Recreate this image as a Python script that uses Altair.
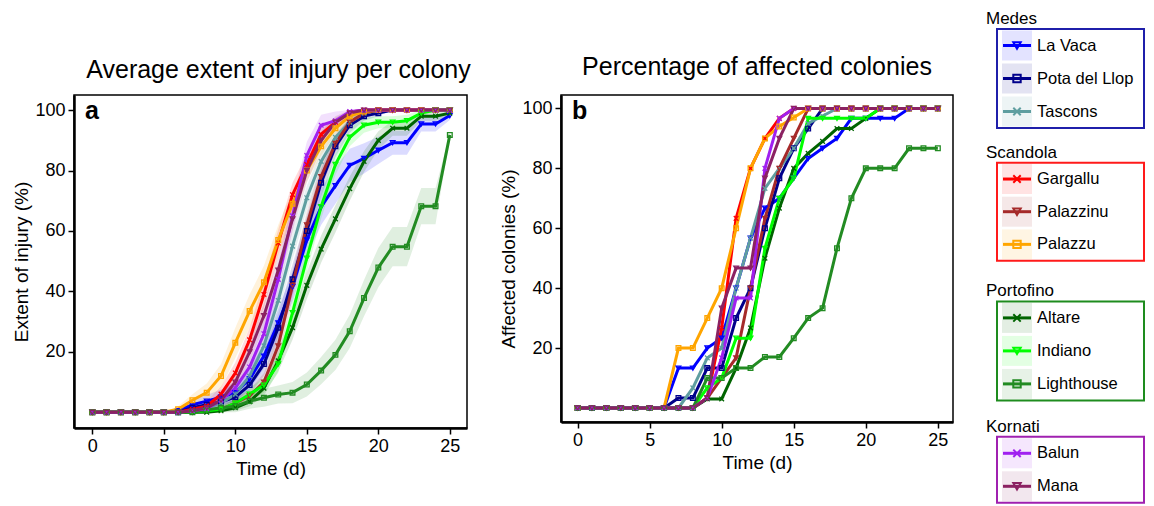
import altair as alt
import pandas as pd

FONT = "Liberation Sans"

T = list(range(26))

SITES = ["La Vaca", "Pota del Llop", "Tascons", "Gargallu", "Palazzinu", "Palazzu",
         "Altare", "Indiano", "Lighthouse", "Balun", "Mana"]
COLORS = ["#0000FF", "#00008B", "#5F9EA0", "#FF0000", "#A52A2A", "#FFA500",
          "#006400", "#00FF00", "#228B22", "#A020F0", "#8B2262"]
XMARK = "M-1,-1L1,1M-1,1L1,-1"
SHAPES = ["triangle-down", "square", XMARK, XMARK, "triangle-down", "square",
          XMARK, "triangle-down", "square", XMARK, "triangle-down"]

GROUP_NAMES = ["Medes", "Scandola", "Portofino", "Kornati"]
GROUP_COLORS = ["#1F1FAA", "#FF1A1A", "#1E8C1E", "#A020B0"]
GROUP_SITES = [SITES[0:3], SITES[3:6], SITES[6:9], SITES[9:11]]

# Panel a: average extent of injury (%)
INJURY = {
    "La Vaca":       [0,0,0,0,0,0,0.5,2.5,3.7,5,6.5,11,18.6,29.6,41.6,57,68,75,81.7,84,86.7,89.2,89.2,95.4,95.4,98.2],
    "Pota del Llop": [0,0,0,0,0,0,0,1.5,2.5,3.5,5,9,16,28,44,60,76,88,95,98,99,100,100,100,100,100],
    "Tascons":       [0,0,0,0,0,0,0,0.5,1.5,3,6,12,22,37,55,71,83,91,96,99,100,100,100,100,100,100],
    "Gargallu":      [0,0,0,0,0,0,0,1,2,6,13,24,39,56,72,82,92,96,99.3,100,100,100,100,100,100,100],
    "Palazzinu":     [0,0,0,0,0,0,0,0,0.5,1,3,5.5,10,22,42,62,78,89,96,99,100,100,100,100,100,100],
    "Palazzu":       [0,0,0,0,0,0,1,4,6.5,12,23,33.5,43,57,69,80,88,94,98,99.5,100,100,100,100,100,100],
    "Altare":        [0,0,0,0,0,0,0,0,0,0.5,1.5,3.5,8,17,28,42,54,64,74,83,90,94,94,98,98,99],
    "Indiano":       [0,0,0,0,0,0,0,0,0.5,1,3,6,9,16,33,51,68,82,91,95,96,96,96.5,99,100,100],
    "Lighthouse":    [0,0,0,0,0,0,0,0,0.8,1.5,2,3.7,4.8,5.9,6.5,9.2,13.8,19,26.8,37.8,47.9,54.8,54.8,68.2,68.2,91.8],
    "Balun":         [0,0,0,0,0,0,0,0.5,1.2,4,8,15,26,44,65,85,95,96.5,99.5,100,100,100,100,100,100,100],
    "Mana":          [0,0,0,0,0,0,0,0.5,1.5,4,10,20,32,47,64,80,90,96,99,100,100,100,100,100,100,100],
}
# half-width of the shaded band around each injury curve
INJURY_SE = {
    "La Vaca":       [0,0,0,0,0,0,0.5,1.5,2,2.5,3,3.5,4,4.5,5,5.5,6,6,5.5,5,4.5,4,4,2.5,2.5,1.5],
    "Pota del Llop": [0,0,0,0,0,0,0,1,1.5,2,2.5,3,4,4.5,5,5,4.5,3.5,2.5,1.5,1,0,0,0,0,0],
    "Tascons":       [0,0,0,0,0,0,0,0.5,1,1.5,2.5,3.5,4,4.5,4.5,4,3.5,3,2,1,0,0,0,0,0,0],
    "Gargallu":      [0,0,0,0,0,0,0,1,1.5,2.5,3.5,4,4.5,4.5,4,3.5,2.5,1.5,0.5,0,0,0,0,0,0,0],
    "Palazzinu":     [0,0,0,0,0,0,0,0,0.5,1,1.5,2,3,4,4.5,4.5,4,3,1.5,0.5,0,0,0,0,0,0],
    "Palazzu":       [0,0,0,0,0,0,1,2,3,4,5,5.5,5.5,5,4.5,3.5,3,2,1,0.5,0,0,0,0,0,0],
    "Altare":        [0,0,0,0,0,0,0,0,0,0.5,1,1.5,2.5,3.5,4,4.5,4.5,4.5,4,3.5,3,2.5,2.5,1.5,1.5,1],
    "Indiano":       [0,0,0,0,0,0,0,0,0.5,1,1.5,2,2.5,3,4,4.5,4,3.5,3,2.5,2,2,2,1,0.5,0],
    "Lighthouse":    [0,0,0,0,0,0,0,0,1,1.5,2,2.5,3,3,3.5,4,4.5,5,5.5,6,6.5,6.5,6.5,6,6,0.5],
    "Balun":         [0,0,0,0,0,0,0,0.5,1,2,3,3.5,4.5,5,5,4.5,3.5,3,1,0,0,0,0,0,0,0],
    "Mana":          [0,0,0,0,0,0,0,0.5,1,1.5,2.5,3.5,4,4.5,4.5,4,3,2,1,0,0,0,0,0,0,0],
}
# Panel b: percentage of affected colonies
AFFECTED = {
    "La Vaca":       [0,0,0,0,0,0,0,13.3,13.3,20,23.3,40,56.7,66.7,70,76.7,83.3,86.7,90,96.7,96.7,96.7,96.7,100,100,100],
    "Pota del Llop": [0,0,0,0,0,0,0,3.3,3.3,13.3,13.3,30,40,60,76.7,86.7,93.3,100,100,100,100,100,100,100,100,100],
    "Tascons":       [0,0,0,0,0,0,0,0,6.7,16.7,20,40,56.7,73.3,80,86.7,95,97.5,100,100,100,100,100,100,100,100],
    "Gargallu":      [0,0,0,0,0,0,0,0,0,3.3,26.7,63.3,80,90,96.7,100,100,100,100,100,100,100,100,100,100,100],
    "Palazzinu":     [0,0,0,0,0,0,0,0,0,3.3,10,16.7,40,63.3,80,90,100,100,100,100,100,100,100,100,100,100],
    "Palazzu":       [0,0,0,0,0,0,0,20,20,30,40,60,80,90,94,97,100,100,100,100,100,100,100,100,100,100],
    "Altare":        [0,0,0,0,0,0,0,0,0,3,3,13.3,26.7,50,66.7,80,85,89,93.3,93.3,96.7,100,100,100,100,100],
    "Indiano":       [0,0,0,0,0,0,0,0,0,6.7,10,23.3,23.3,53.3,70,76.7,96.7,96.7,96.7,96.7,96.7,100,100,100,100,100],
    "Lighthouse":    [0,0,0,0,0,0,0,0,0,10,10,13.3,13.3,17,17,23.3,30,33.3,53.3,70,80,80,80,86.7,86.7,86.7],
    "Balun":         [0,0,0,0,0,0,0,0,0,3.3,16.7,36.7,36.7,80,96.7,100,100,100,100,100,100,100,100,100,100,100],
    "Mana":          [0,0,0,0,0,0,0,0,0,3.3,33.3,46.7,46.7,76.7,90,100,100,100,100,100,100,100,100,100,100,100],
}

PANEL_TITLES = ["Average extent of injury per colony", "Percentage of affected colonies"]
PANEL_TAGS = ["a", "b"]
Y_TITLES = ["Extent of injury (%)", "Affected colonies (%)"]
X_TITLE = "Time (d)"
X_TICKS = [0, 5, 10, 15, 20, 25]
Y_TICKS = [20, 40, 60, 80, 100]

rows = []
for s in SITES:
    for i, t in enumerate(T):
        m = INJURY[s][i]
        se = INJURY_SE[s][i]
        rows.append({"site": s, "t": t, "injury": m,
                     "lo": max(m - se, 0), "hi": min(m + se, 100),
                     "affected": AFFECTED[s][i]})
df = pd.DataFrame(rows)

color_scale = alt.Scale(domain=SITES, range=COLORS)
shape_scale = alt.Scale(domain=SITES, range=SHAPES)


def x_axis():
    return alt.Axis(values=X_TICKS, title=X_TITLE, grid=False, domainColor="black",
                    domainWidth=2.5, tickColor="black", tickWidth=1.5, tickSize=6,
                    labelFontSize=18, titleFontSize=19, labelColor="black",
                    titleColor="black", titleFontWeight="normal", labelPadding=3,
                    titlePadding=4, labelFont=FONT, titleFont=FONT, labelFlush=False)


def y_axis(title):
    return alt.Axis(values=Y_TICKS, title=title, grid=False, domainColor="black",
                    domainWidth=2.5, tickColor="black", tickWidth=1.5, tickSize=6,
                    labelFontSize=18, titleFontSize=19, labelColor="black",
                    titleColor="black", titleFontWeight="normal", labelPadding=3,
                    titlePadding=3, labelFont=FONT, titleFont=FONT)


def panel(idx, field, xdom, ydom, width, height, bands, title_offset, title_dx):
    X = alt.X("t:Q", scale=alt.Scale(domain=xdom, nice=False, zero=False), axis=x_axis())
    ax = y_axis(Y_TITLES[idx])
    ysc = alt.Scale(domain=ydom, nice=False, zero=False)
    col = alt.Color("site:N", scale=color_scale, legend=None)
    base = alt.Chart(df)
    layers = []
    if bands:
        layers.append(base.mark_area(opacity=0.14).encode(
            x=X, y=alt.Y("lo:Q", scale=ysc, axis=ax), y2="hi:Q", color=col, detail="site:N"))
    layers.append(base.mark_line(strokeWidth=3).encode(
        x=X, y=alt.Y(f"{field}:Q", scale=ysc, axis=ax), color=col, detail="site:N"))
    layers.append(base.mark_point(size=22, filled=False, strokeWidth=1.3, opacity=1).encode(
        x=X, y=alt.Y(f"{field}:Q", scale=ysc, axis=ax), color=col,
        shape=alt.Shape("site:N", scale=shape_scale, legend=None)))
    tag = alt.Chart(pd.DataFrame({"tag": [PANEL_TAGS[idx]]})).mark_text(
        fontSize=25, fontWeight="bold", font=FONT, align="left", baseline="alphabetic",
        color="black").encode(x=alt.value(11), y=alt.value(24), text="tag:N")
    layers.append(tag)
    return alt.layer(*layers).properties(
        width=width, height=height,
        title=alt.TitleParams(PANEL_TITLES[idx], fontSize=25, font=FONT, fontWeight="normal",
                              anchor="middle", frame="group", offset=title_offset,
                              dx=title_dx, color="black"),
        view=alt.ViewBackground(stroke="black", strokeWidth=1.5),
    )


panel_a = panel(0, "injury", [-1.28, 26.2], [-5.2, 105], 393, 333, True, 12, 8)
panel_b = panel(1, "affected", [-1.15, 26.05], [-4.7, 104.5], 392, 327, False, 15, 0)


def legend_box(name, gcolor, sites, height):
    ldf = pd.DataFrame({"site": sites})
    Y = alt.Y("site:N", sort=sites, axis=None, scale=alt.Scale(domain=sites))
    col = alt.Color("site:N", scale=color_scale, legend=None)
    base = alt.Chart(ldf)
    bg = base.mark_square(size=900, opacity=0.11).encode(x=alt.value(20), y=Y, color=col)
    line = base.mark_rule(strokeWidth=3).encode(x=alt.value(6), x2=alt.value(34), y=Y, color=col)
    pts = base.mark_point(size=55, filled=False, strokeWidth=2, opacity=1).encode(
        x=alt.value(20), y=Y, color=col,
        shape=alt.Shape("site:N", scale=shape_scale, legend=None))
    txt = base.mark_text(align="left", baseline="middle", fontSize=16.5, font=FONT,
                         color="black").encode(x=alt.value(40), y=Y, text="site:N")
    return alt.layer(bg, line, pts, txt).properties(
        width=147, height=height,
        title=alt.TitleParams(name, anchor="start", frame="group", fontSize=17, font=FONT,
                              fontWeight="normal", offset=1, dx=-11, color="black"),
        view=alt.ViewBackground(stroke=gcolor, strokeWidth=2),
    )


boxes = [legend_box(n, c, s, h) for n, c, s, h in
         zip(GROUP_NAMES, GROUP_COLORS, GROUP_SITES, [99, 98, 99, 66])]
legend_col = alt.vconcat(
    alt.vconcat(boxes[0], boxes[1], spacing=13.7),
    alt.vconcat(boxes[2], boxes[3], spacing=15.4),
    spacing=19.4,
)

spacer = alt.Chart(pd.DataFrame({"v": [0]})).mark_point(opacity=0).encode(
    x=alt.value(0), y=alt.value(0)).properties(
    width=1, height=25, view=alt.ViewBackground(stroke="transparent", strokeWidth=0))

left = alt.vconcat(spacer, alt.hconcat(panel_a, panel_b, spacing=27), spacing=0)

chart = alt.hconcat(left, legend_col, spacing=31).properties(
    padding={"left": 12, "top": 9, "right": 4, "bottom": 0}
).configure_view(strokeWidth=0).configure(background="white")

chart.save("out.html", embed_options={"renderer": "svg", "actions": False})
